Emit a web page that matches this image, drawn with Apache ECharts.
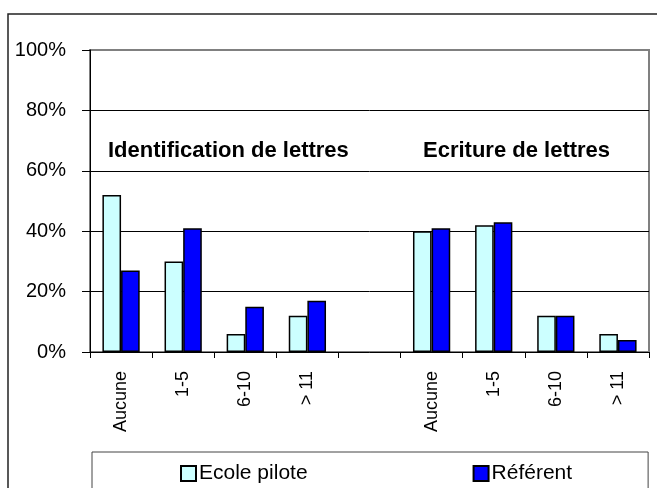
<!DOCTYPE html>
<html lang="fr">
<head>
    <meta charset="UTF-8">
    <script src="https://cdn.jsdelivr.net/npm/echarts@6/dist/echarts.min.js"></script>
    <style>
        body, html {
            margin: 0;
            height: 100%;
            background: #fff;
        }

        #main {
            width: 657px;
            height: 488px;
        }
    </style>
    <title>Lettres</title>
</head>
<body>

<div id="main"></div>
<script type="text/javascript">
    const myChart = echarts.init(document.getElementById('main'));

    // catégories : deux groupes séparés par une colonne vide
    const categories = ['Aucune', '1-5', '6-10', '> 11', '', 'Aucune', '1-5', '6-10', '> 11'];
    const ecolePilote = [52, 30, 6, 12, null, 40, 42, 12, 6];
    const referent = [27, 41, 15, 17, null, 41, 43, 12, 4];
    const seriesNames = ['Ecole pilote', 'Référent'];
    const groupTitles = ['Identification de lettres', 'Ecriture de lettres'];

    const font = '"Liberation Sans", Arial, sans-serif';

    var option = {
        animation: false,
        backgroundColor: '#fff',
        textStyle: {fontFamily: font, color: '#000'},
        grid: {
            left: 90,
            top: 50,
            right: 8,
            bottom: 136,
            show: true,
            borderColor: '#808080',
            borderWidth: 2,
            containLabel: false
        },
        xAxis: {
            type: 'category',
            data: categories,
            axisLine: {lineStyle: {color: '#000', width: 1}},
            axisTick: {show: true, length: 6, lineStyle: {color: '#000'}},
            axisLabel: {
                rotate: 90,
                margin: 19,
                fontSize: 18,
                color: '#000',
                fontFamily: font,
                interval: 0
            },
            splitLine: {show: false}
        },
        yAxis: {
            type: 'value',
            min: 0,
            max: 100,
            interval: 20,
            axisLine: {show: true, lineStyle: {color: '#000', width: 1}},
            axisTick: {show: true, length: 8, lineStyle: {color: '#000'}},
            axisLabel: {
                formatter: '{value}%',
                margin: 24,
                fontSize: 20,
                color: '#000',
                fontFamily: font
            },
            splitLine: {
                show: true,
                showMinLine: false,
                showMaxLine: false,
                lineStyle: {color: '#000', width: 1}
            }
        },
        legend: {
            data: seriesNames,
            left: 92,
            top: 452,
            orient: 'horizontal',
            padding: [11, 76, 40, 88],
            itemGap: 165,
            itemWidth: 15,
            itemHeight: 15,
            icon: 'rect',
            borderColor: '#444',
            borderWidth: 1,
            textStyle: {fontSize: 21, color: '#000', fontFamily: font, padding: [0, 0, 0, -2]}
        },
        graphic: [
            {
                type: 'rect',
                shape: {x: 8, y: 14, width: 700, height: 600},
                style: {fill: 'none', stroke: '#222', lineWidth: 1.5},
                silent: true,
                z: 100
            },
            {
                type: 'text',
                x: 108,
                y: 151,
                style: {
                    text: groupTitles[0],
                    font: 'bold 22px ' + font,
                    fill: '#000',
                    align: 'left',
                    verticalAlign: 'middle'
                }
            },
            {
                type: 'text',
                x: 423,
                y: 151,
                style: {
                    text: groupTitles[1],
                    font: 'bold 22px ' + font,
                    fill: '#000',
                    align: 'left',
                    verticalAlign: 'middle'
                }
            }
        ],
        series: [
            {
                name: seriesNames[0],
                type: 'bar',
                data: ecolePilote,
                barGap: '0%',
                barCategoryGap: '40%',
                itemStyle: {color: '#CCFFFF', borderColor: '#000', borderWidth: 1.5}
            },
            {
                name: seriesNames[1],
                type: 'bar',
                data: referent,
                itemStyle: {color: '#0000FF', borderColor: '#000', borderWidth: 1.5}
            }
        ]
    };
    myChart.setOption(option);

</script>
</body>
</html>
